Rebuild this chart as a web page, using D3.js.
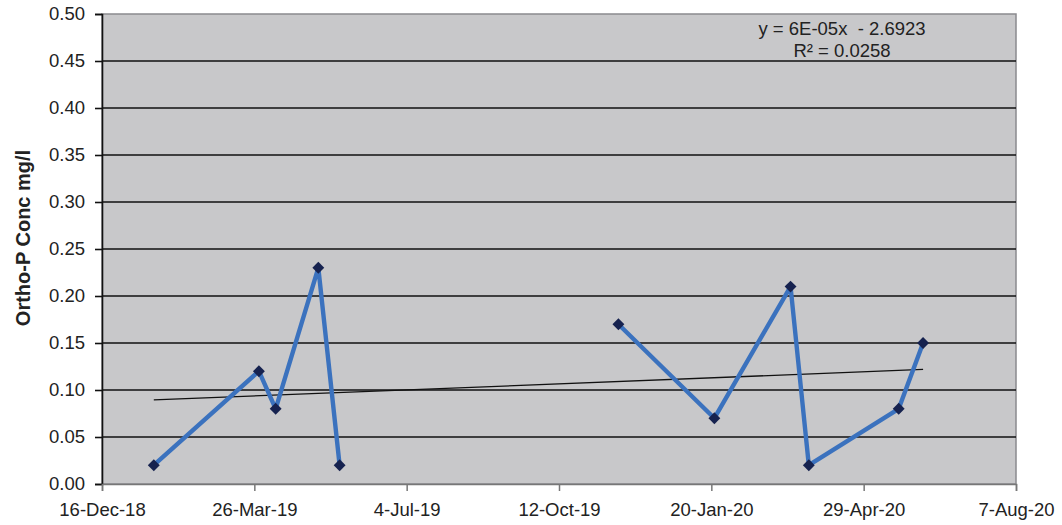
<!DOCTYPE html>
<html><head><meta charset="utf-8">
<script src="https://cdn.jsdelivr.net/npm/d3@7"></script>
<style>body{margin:0;background:#fff}svg{display:block}</style>
</head><body>
<svg id="c" width="1062" height="525"></svg>
<script>
const dates = ["2019-01-19","2019-03-29","2019-04-09","2019-05-07","2019-05-21","2019-11-20","2020-01-22","2020-03-12","2020-03-24","2020-05-22","2020-06-07"];
const values = [0.02,0.12,0.08,0.23,0.02,0.17,0.07,0.21,0.02,0.08,0.15];
const xTickDates = ["2018-12-16","2019-03-26","2019-07-04","2019-10-12","2020-01-20","2020-04-29","2020-08-07"];
const xTickLabels = ["16-Dec-18","26-Mar-19","4-Jul-19","12-Oct-19","20-Jan-20","29-Apr-20","7-Aug-20"];
const yTicks = [0,0.05,0.10,0.15,0.20,0.25,0.30,0.35,0.40,0.45,0.50];
const yLabel = "Ortho-P Conc mg/l";
const eqText = ["y = 6E-05x \u00a0- 2.6923", "R\u00b2 = 0.0258"];

const FONT = "Liberation Sans, Arial, sans-serif";
const parse = d3.utcParse("%Y-%m-%d");
const data = dates.map((d,i)=>({x:parse(d), y:values[i]}));
const svg = d3.select("#c");
const m = {l:102, r:1016, t:14, b:484};
const x = d3.scaleUtc().domain([parse(xTickDates[0]), parse(xTickDates[xTickDates.length-1])]).range([m.l, m.r]);
const y = d3.scaleLinear().domain([0,0.5]).range([m.b, m.t]);

// plot background
svg.append("rect").attr("x",m.l).attr("y",m.t).attr("width",m.r-m.l).attr("height",m.b-m.t)
  .attr("fill","#c8c8ca").attr("stroke","#8a8a8e").attr("stroke-width",1.5);

// gridlines
svg.append("g").selectAll("line").data(yTicks.filter(v=>v>0 && v<0.5)).join("line")
  .attr("x1",m.l).attr("x2",m.r).attr("y1",d=>y(d)).attr("y2",d=>y(d))
  .attr("stroke","#111").attr("stroke-width",1.5);

// y axis
const ya = svg.append("g").attr("transform",`translate(${m.l},0)`)
  .call(d3.axisLeft(y).tickValues(yTicks).tickFormat(d3.format(".2f")).tickSize(7).tickPadding(10));
ya.select(".domain").attr("stroke","#111").attr("stroke-width",1.6);
ya.selectAll(".tick line").attr("stroke","#111").attr("stroke-width",1.6);
ya.selectAll("text").attr("font-family",FONT).attr("font-size",18.5).attr("fill","#222");

// x axis
const xa = svg.append("g").attr("transform",`translate(0,${m.b})`)
  .call(d3.axisBottom(x).tickValues(xTickDates.map(parse)).tickFormat((d,i)=>xTickLabels[i]).tickSize(7).tickPadding(12));
xa.select(".domain").attr("stroke","#777").attr("stroke-width",1.5);
xa.selectAll(".tick line").attr("stroke","#777").attr("stroke-width",1.5);
xa.selectAll("text").attr("font-family",FONT).attr("font-size",18.5).attr("fill","#222");

// y label
svg.append("text").attr("transform","translate(30,238) rotate(-90)").attr("text-anchor","middle")
  .attr("font-family",FONT).attr("font-weight","bold").attr("font-size",20).attr("fill","#222")
  .text(yLabel);

// trendline via least squares
const xs = data.map(d=>+d.x), ys = data.map(d=>d.y);
const mx = d3.mean(xs), my = d3.mean(ys);
const slope = d3.sum(xs.map((v,i)=>(v-mx)*(ys[i]-my))) / d3.sum(xs.map(v=>(v-mx)*(v-mx)));
const icpt = my - slope*mx;
const x0 = xs[0], x1 = xs[xs.length-1];
svg.append("line").attr("x1",x(new Date(x0))).attr("x2",x(new Date(x1)))
  .attr("y1",y(icpt+slope*x0)).attr("y2",y(icpt+slope*x1))
  .attr("stroke","#111").attr("stroke-width",1.3);

// series lines (gap between sampling periods)
const segs = [data.slice(0,5), data.slice(5)];
const line = d3.line().x(d=>x(d.x)).y(d=>y(d.y));
svg.append("g").selectAll("path").data(segs).join("path").attr("d",line)
  .attr("fill","none").attr("stroke","#3b72be").attr("stroke-width",4.4).attr("stroke-linejoin","round");

// markers
svg.append("g").selectAll("path").data(data).join("path")
  .attr("d",d3.symbol(d3.symbolDiamond2,90))
  .attr("transform",d=>`translate(${x(d.x)},${y(d.y)})`).attr("fill","#16224f");

// equation text
const eq = svg.append("text").attr("text-anchor","middle")
  .attr("font-family",FONT).attr("font-size",18.5).attr("fill","#222");
eq.selectAll("tspan").data(eqText).join("tspan").attr("x",842).attr("y",(d,i)=>35+i*22).text(d=>d);
</script>
</body></html>
